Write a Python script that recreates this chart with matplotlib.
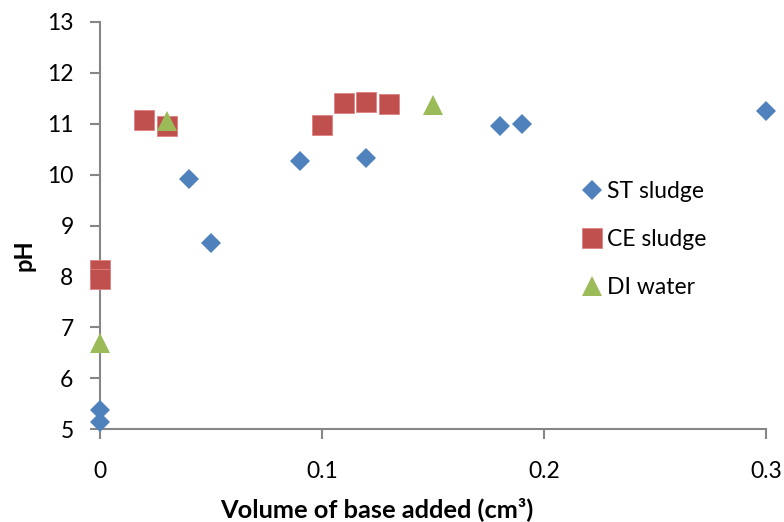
import matplotlib
matplotlib.use("Agg")
import matplotlib.pyplot as plt

st_x = [0, 0, 0.04, 0.05, 0.09, 0.12, 0.18, 0.19, 0.30]
st_y = [5.15, 5.37, 9.91, 8.65, 10.27, 10.32, 10.95, 11.00, 11.26]
ce_x = [0, 0, 0.02, 0.03, 0.10, 0.11, 0.12, 0.13]
ce_y = [8.12, 7.96, 11.07, 10.96, 10.98, 11.40, 11.42, 11.38]
di_x = [0, 0.03, 0.15]
di_y = [6.70, 11.05, 11.37]

xticks = [0, 0.1, 0.2, 0.3]
xtick_labels = ["0", "0.1", "0.2", "0.3"]
yticks = [5, 6, 7, 8, 9, 10, 11, 12, 13]

plt.rcParams['font.family'] = ['Lato', 'DejaVu Sans']

fig = plt.figure(figsize=(7.84, 5.22), dpi=100)
ax = fig.add_axes([100/784, 92.7/522, 666/784, 407.3/522])

ax.plot(st_x, st_y, linestyle='none', marker='D', ms=10.5, color='#4F81BD',
        markeredgewidth=0, label='ST sludge', clip_on=False, zorder=3)
ax.plot(ce_x, ce_y, linestyle='none', marker='s', ms=14, color='#C0504D',
        markeredgewidth=0.6, markeredgecolor='#E08080', label='CE sludge', clip_on=False, zorder=3)
ax.plot(di_x, di_y, linestyle='none', marker='^', ms=14.5, color='#9BBB59',
        markeredgewidth=0, label='DI water', clip_on=False, zorder=4)

ax.set_xlim(0, 0.3)
ax.set_ylim(5, 13)
ax.set_xticks(xticks)
ax.set_xticklabels(xtick_labels)
ax.set_yticks(yticks)

for s in ['top', 'right']:
    ax.spines[s].set_visible(False)
for s in ['left', 'bottom']:
    ax.spines[s].set_color('#868686')
    ax.spines[s].set_linewidth(1.5)

ax.tick_params(axis='y', direction='out', length=7, width=1.5, color='#868686',
               labelsize=16.5, pad=12)
ax.tick_params(axis='x', direction='out', length=7, width=1.5, color='#868686',
               labelsize=16.5, pad=16)

ax.set_xlabel('Volume of base added (cm³)', fontsize=18.3, fontweight='bold', va='center')
ax.xaxis.set_label_coords(0.416, -0.195)
ax.set_ylabel('pH', fontsize=17, fontweight='bold', va='center')
ax.yaxis.set_label_coords(-0.114, 0.428)

ax.legend(loc='upper left', bbox_to_anchor=(0.709, 0.633), frameon=False, fontsize=16.5,
          handletextpad=0.23, labelspacing=1.19, handlelength=0.9, borderaxespad=0)

fig.savefig('out.png', dpi=100)
